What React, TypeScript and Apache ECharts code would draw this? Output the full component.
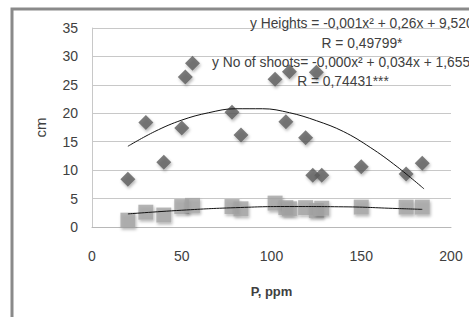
import React, { useEffect, useRef } from "react";
import * as echarts from "echarts";

const heights: [number, number][] = [
  [20, 8.4], [30, 18.4], [40, 11.4], [50, 17.4], [52, 26.4], [56, 28.8],
  [78, 20.2], [83, 16.2], [102, 26.0], [108, 18.5], [110, 27.3], [119, 15.7],
  [123, 9.1], [125, 27.2], [128, 9.1], [150, 10.6], [175, 9.3], [184, 11.2],
];
const shoots: [number, number][] = [
  [20, 1.2], [30, 2.6], [40, 2.1], [50, 3.6], [56, 3.8], [78, 3.6],
  [83, 3.2], [102, 4.2], [108, 3.4], [110, 3.2], [119, 3.4], [125, 2.9],
  [128, 3.3], [150, 3.5], [175, 3.5], [184, 3.5],
];
const heightsTrend: [number, number][] = [
  [20, 14.2], [35, 16.8], [50, 18.8], [65, 20.1], [80, 20.8], [95, 20.8],
  [110, 20.1], [125, 18.7], [140, 16.8], [155, 14.0], [170, 10.6], [185, 6.7],
];
const shootsTrend: [number, number][] = [
  [20, 2.3], [50, 2.95], [80, 3.4], [110, 3.6], [140, 3.55], [170, 3.25], [184, 3.1],
];
const eqHeights = "y Heights = -0,001x² + 0,26x + 9,520";
const rHeights = "R = 0,49799*";
const eqShoots = "y No of shoots= -0,000x² + 0,034x + 1,655";
const rShoots = "R = 0,74431***";

const FONT = "'Liberation Sans', Arial, sans-serif";

export default function App() {
  const ref = useRef<HTMLDivElement>(null);
  useEffect(() => {
    const chart = echarts.init(ref.current!, null, { renderer: "svg" });
    const txt = { fontFamily: FONT, fontSize: 13.8, fill: "#404040" };
    chart.setOption({
      animation: false,
      backgroundColor: "#fff",
      grid: { left: 92, right: 18, top: 28, bottom: 90 },
      xAxis: {
        type: "value", min: 0, max: 200, interval: 50,
        name: "P, ppm", nameLocation: "middle", nameGap: 58,
        nameTextStyle: { fontFamily: FONT, fontSize: 13, fontWeight: "bold", color: "#404040" },
        axisLine: { show: true, lineStyle: { color: "#b8b8b8" } },
        axisTick: { show: false },
        axisLabel: { fontFamily: FONT, fontSize: 14, color: "#404040", margin: 22 },
        splitLine: { show: false },
      },
      yAxis: {
        type: "value", min: 0, max: 35, interval: 5,
        name: "cm", nameLocation: "middle", nameGap: 44, nameRotate: 90,
        nameTextStyle: { fontFamily: FONT, fontSize: 15, color: "#404040" },
        axisLine: { show: true, lineStyle: { color: "#c8c8c8" } },
        axisTick: { show: false },
        axisLabel: { fontFamily: FONT, fontSize: 14, color: "#404040", margin: 14 },
        splitLine: { show: true, lineStyle: { color: "#c8c8c8" } },
      },
      series: [
        {
          type: "scatter", data: shoots, symbol: "rect", symbolSize: 15, z: 2,
          itemStyle: { color: "#a4a4a4", shadowBlur: 3, shadowOffsetX: 1, shadowOffsetY: 2, shadowColor: "rgba(0,0,0,0.35)" },
        },
        {
          type: "scatter", data: heights, symbol: "diamond", symbolSize: 15, z: 3,
          itemStyle: { color: "#5c5c5c", shadowBlur: 3, shadowOffsetX: 1, shadowOffsetY: 2, shadowColor: "rgba(0,0,0,0.35)" },
        },
        {
          type: "line", data: heightsTrend, smooth: 0.4, symbol: "none", z: 4,
          lineStyle: { color: "#111", width: 1 },
        },
        {
          type: "line", data: shootsTrend, smooth: true, symbol: "none", z: 4,
          lineStyle: { color: "#111", width: 1 },
        },
      ],
      graphic: [
        {
          type: "rect", shape: { x: 12, y: 9, width: 700, height: 500 }, silent: true, z: -10,
          style: { fill: "none", stroke: "#8a8a8a", lineWidth: 3 },
        },
        { type: "text", x: 250, y: 23, z: 10, style: { ...txt, text: eqHeights, textVerticalAlign: "middle" } },
        { type: "text", x: 362, y: 43, z: 10, style: { ...txt, text: rHeights, textAlign: "center", textVerticalAlign: "middle" } },
        { type: "text", x: 212, y: 62, z: 10, style: { ...txt, text: eqShoots, textVerticalAlign: "middle" } },
        { type: "text", x: 343, y: 81, z: 10, style: { ...txt, text: rShoots, textAlign: "center", textVerticalAlign: "middle" } },
      ],
    });
    return () => chart.dispose();
  }, []);
  return <div ref={ref} style={{ position: "fixed", left: 0, top: 0, width: 469, height: 317 }} />;
}
